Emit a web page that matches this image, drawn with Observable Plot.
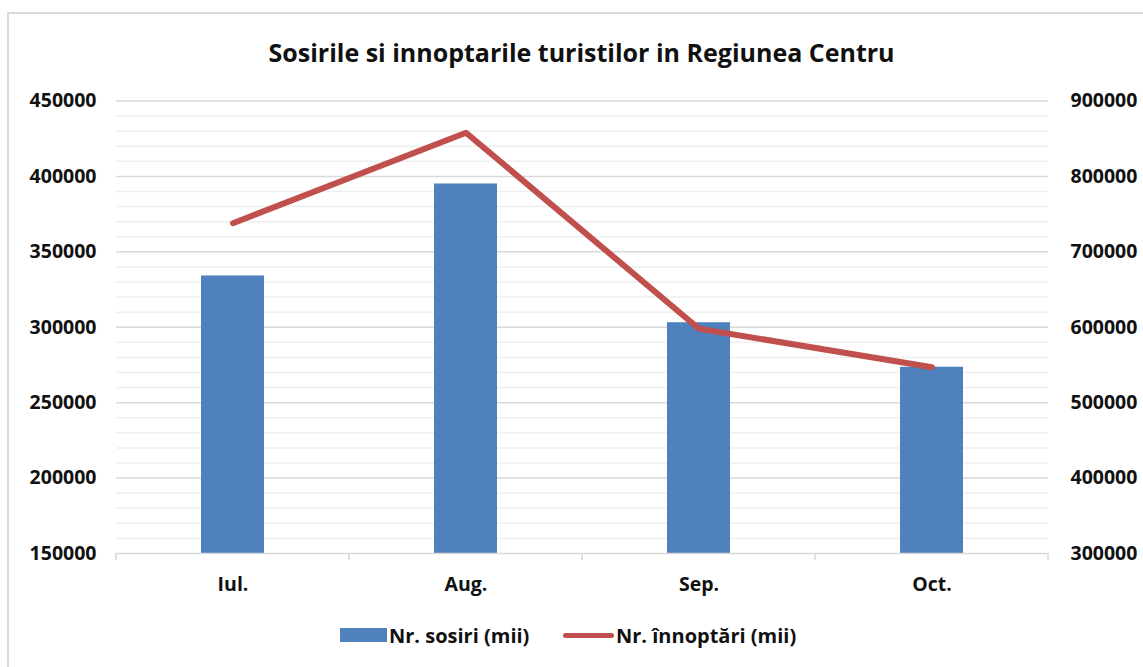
<!DOCTYPE html>
<html>
<head>
<meta charset="utf-8">
<script src="https://cdn.jsdelivr.net/npm/d3@7"></script>
<script src="https://cdn.jsdelivr.net/npm/@observablehq/plot@0.6"></script>
<style>
  html, body { margin: 0; padding: 0; background: #fff; }
  #wrap { position: relative; width: 1143px; height: 667px; overflow: hidden; font-family: "Open Sans", Lato, sans-serif; }
  #frame { position: absolute; left: 7px; top: 12px; width: 1200px; height: 700px; border-left: 2px solid #d9d9d9; border-top: 2px solid #d9d9d9; }
  #title { position: absolute; left: 0; width: 1163px; top: 34px; text-align: center; font-weight: bold; font-size: 25px; line-height: 36px; color: #111; }
  #chart { position: absolute; left: 0; top: 80px; }
  #legend { position: absolute; top: 621px; left: 0; width: 1143px; font-weight: bold; font-size: 20px; color: #111; }
  .lg { position: absolute; display: flex; align-items: center; }
</style>
</head>
<body>
<div id="wrap">
  <div id="frame"></div>
  <div id="title">Sosirile si innoptarile turistilor in Regiunea Centru</div>
  <div id="chart"></div>
  <div id="legend"></div>
</div>
<script>
// Data
const months = ["Iul.", "Aug.", "Sep.", "Oct."];
const sosiri = [334000, 395000, 303000, 273500];          // left axis
const innoptari = [738000, 858000, 598000, 547000];       // right axis
const leftTicks = [150000, 200000, 250000, 300000, 350000, 400000, 450000];
const rightTicks = [300000, 400000, 500000, 600000, 700000, 800000, 900000];
const seriesNames = ["Nr. sosiri (mii)", "Nr. înnoptări (mii)"];
const barColor = "#4F81BD";
const lineColor = "#C0504D";

// right axis maps linearly onto left axis domain
const L0 = 150000, L1 = 450000, R0 = 300000, R1 = 900000;
const toLeft = v => L0 + (v - R0) * (L1 - L0) / (R1 - R0);

const rows = months.map((m, i) => ({month: m, sosiri: sosiri[i], innoptari: innoptari[i]}));
const minorTicks = d3.range(L0, L1 + 1, 10000).filter(v => !leftTicks.includes(v));

const W = 1143, H = 540;
const chart = Plot.plot({
  width: W,
  height: H,
  marginTop: 20.5,
  marginBottom: 67,
  marginLeft: 116,
  marginRight: 95,
  style: {fontFamily: "'Open Sans', Lato, sans-serif", fontSize: "19.5px", fontWeight: "bold", color: "#111", background: "transparent"},
  x: {type: "band", domain: months, padding: 0},
  y: {domain: [L0, L1]},
  marks: [
    Plot.ruleY(minorTicks, {stroke: "#efefef", strokeWidth: 1.5}),
    Plot.ruleY(leftTicks.slice(1), {stroke: "#d9d9d9", strokeWidth: 1.5}),
    Plot.barY(rows, {x: "month", y1: L0, y2: "sosiri", fill: barColor, insetLeft: 85, insetRight: 85}),
    Plot.ruleY([L0], {stroke: "#d9d9d9", strokeWidth: 1.5}),
    // category boundary ticks on the x axis
    (index, scales, values, dims) => {
      const g = d3.create("svg:g");
      const bw = scales.x.bandwidth ? scales.x.bandwidth() : 0;
      const y0 = scales.y(L0);
      const xs = months.map(m => scales.x(m)).concat([scales.x(months[months.length - 1]) + bw]);
      xs.forEach(x => g.append("line").attr("x1", x).attr("x2", x).attr("y1", y0).attr("y2", y0 + 7)
        .attr("stroke", "#d9d9d9").attr("stroke-width", 1.5));
      return g.node();
    },
    Plot.lineY(rows, {x: "month", y: d => toLeft(d.innoptari), stroke: lineColor, strokeWidth: 6,
      strokeLinecap: "round", strokeLinejoin: "round"}),
    Plot.axisY({anchor: "left", ticks: leftTicks, tickSize: 0, tickPadding: 20, tickFormat: d => String(d), label: null}),
    Plot.axisY({anchor: "right", ticks: leftTicks, tickSize: 0, tickPadding: 22,
      tickFormat: (d, i) => String(rightTicks[i]), label: null}),
    Plot.axisX({tickSize: 0, tickPadding: 24, label: null})
  ]
});
document.getElementById("chart").appendChild(chart);

// legend
const lg = document.getElementById("legend");
lg.innerHTML = `
  <div class="lg" style="left:340px;top:0px;height:28px;">
    <span style="display:inline-block;width:47px;height:14px;background:${barColor};margin-right:2px;"></span>
    <span>${seriesNames[0]}</span>
  </div>
  <div class="lg" style="left:563px;top:0px;height:28px;">
    <span style="display:inline-block;width:51px;height:5px;border-radius:3px;background:${lineColor};margin-right:2px;"></span>
    <span>${seriesNames[1]}</span>
  </div>`;
</script>
</body>
</html>
